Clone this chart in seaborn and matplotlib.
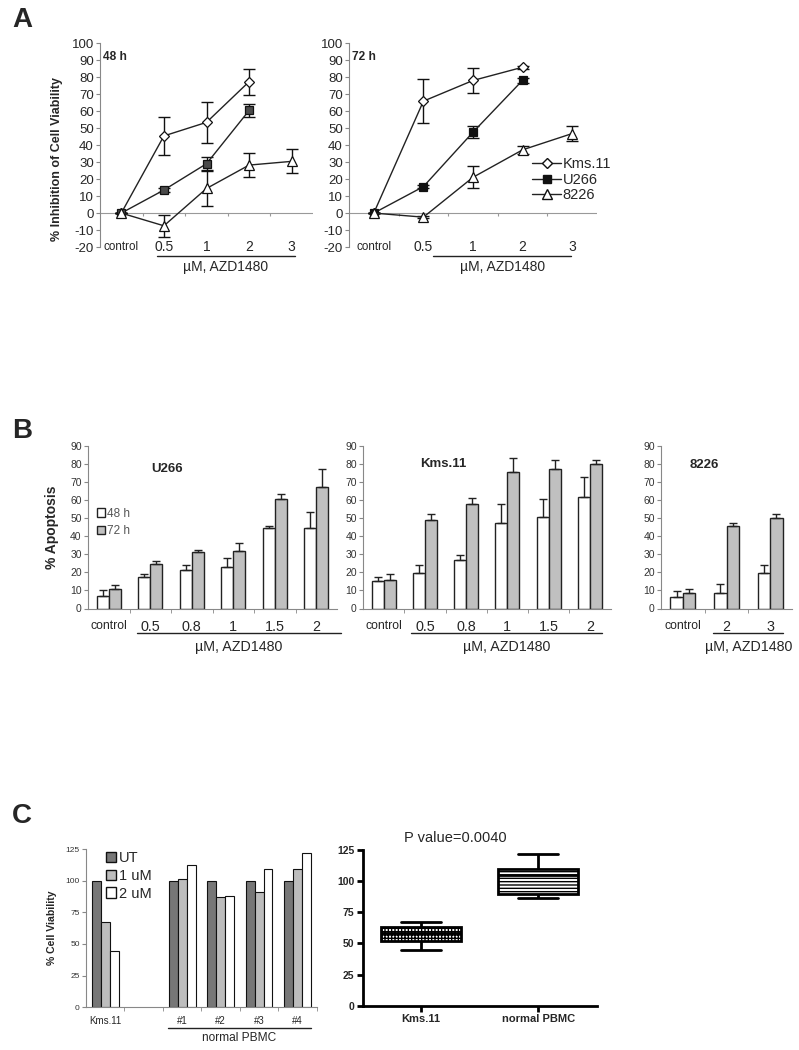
import numpy as np
import pandas as pd
import seaborn as sns
import matplotlib.pyplot as plt
from matplotlib.lines import Line2D
from matplotlib.patches import Patch
from matplotlib.transforms import blended_transform_factory

sns.set_style("white")
plt.rcParams["font.family"] = ["Liberation Sans", "DejaVu Sans"]
plt.rcParams["axes.unicode_minus"] = False
plt.rcParams["hatch.linewidth"] = 1.0

W, H = 799, 1050

# ---- panel A: % inhibition of viability (mean, sd) ----
doses_a = ["control", "0.5", "1", "2", "3"]
lines_a = ["Kms.11", "U266", "8226"]
inh48 = {"Kms.11": [0, 45.5, 53.5, 77.5, np.nan],
         "U266": [0, 13.6, 29.1, 60.5, np.nan],
         "8226": [0, -7.5, 14.5, 28.3, 30.5]}
inh48_sd = {"Kms.11": [0, 11.4, 12.2, 7.6, np.nan],
            "U266": [0, 1.2, 3.8, 3.6, np.nan],
            "8226": [0, 6.5, 10.2, 7.0, 7.0]}
inh72 = {"Kms.11": [0, 66.0, 78.2, 86.0, np.nan],
         "U266": [0, 15.6, 47.7, 78.3, np.nan],
         "8226": [0, -2.4, 21.1, 37.3, 46.9]}
inh72_sd = {"Kms.11": [0, 13.0, 7.4, 1.0, np.nan],
            "U266": [0, 1.0, 3.7, 1.5, np.nan],
            "8226": [0, 0.5, 6.6, 2.5, 4.6]}

# ---- panel B: % apoptosis (mean, +sd) ----
u266_doses = ["control", "0.5", "0.8", "1", "1.5", "2"]
u266_48 = [7.0, 17.2, 21.1, 23.1, 44.4, 44.6]
u266_48_sd = [3.0, 2.1, 2.8, 4.8, 1.3, 8.9]
u266_72 = [10.9, 24.8, 31.1, 32.0, 60.9, 67.2]
u266_72_sd = [2.3, 1.7, 1.1, 4.5, 2.4, 9.8]

kms_doses = ["control", "0.5", "0.8", "1", "1.5", "2"]
kms_48 = [15.1, 19.5, 26.7, 47.1, 50.6, 61.9]
kms_48_sd = [2.4, 4.4, 3.1, 10.5, 10.3, 10.7]
kms_72 = [16.0, 49.2, 58.0, 75.5, 77.3, 79.9]
kms_72_sd = [3.0, 2.9, 3.0, 7.7, 4.8, 2.4]

r8226_doses = ["control", "2", "3"]
r8226_48 = [6.4, 8.7, 19.8]
r8226_48_sd = [3.1, 4.9, 4.4]
r8226_72 = [8.5, 45.6, 50.0]
r8226_72_sd = [2.2, 1.7, 2.4]

# ---- panel C: % cell viability ----
via_groups = ["Kms.11", " ", "#1", "#2", "#3", "#4"]
via_present = ["Kms.11", "#1", "#2", "#3", "#4"]
via_ut = [100, 100, 100, 100, 100]
via_1um = [67.3, 101.0, 86.8, 90.8, 109.0]
via_2um = [44.6, 112.0, 87.6, 109.0, 121.6]

box_groups = ["Kms.11", "normal PBMC"]
box_kms = [44.6, 52.0, 58.5, 63.4, 67.3]
box_pbmc = [101.0, 112.0, 86.8, 87.6, 90.8, 109.0, 109.0, 121.6]


def add_axes(fig, x0, y0, x1, y1):
    # pixel box (top-left origin) -> figure fraction
    return fig.add_axes([x0 / W, 1 - y1 / H, (x1 - x0) / W, (y1 - y0) / H])


def underline(ax, x0, x1, y_line, y_text, text="\u00b5M, AZD1480", size=10):
    tr = blended_transform_factory(ax.transData, ax.transAxes)
    ax.plot([x0, x1], [y_line, y_line], color="#222", lw=1,
            transform=tr, clip_on=False)
    ax.text((x0 + x1) / 2, y_text, text, transform=tr,
            ha="center", va="center", fontsize=size)


def inhibition_panel(ax, means, sds, tag, sq_color):
    styles = {"Kms.11": dict(marker="D", markersize=5.5, markerfacecolor="white"),
              "U266": dict(marker="s", markersize=6, markerfacecolor=sq_color),
              "8226": dict(marker="^", markersize=7, markerfacecolor="white")}
    x = np.arange(len(doses_a))
    for name in lines_a:
        y = np.array(means[name], dtype=float)
        e = np.array(sds[name], dtype=float)
        ok = ~np.isnan(y)
        ax.errorbar(x[ok], y[ok], yerr=e[ok], fmt="none", ecolor="#111",
                    elinewidth=1, capsize=4, capthick=1, zorder=2)
        sns.lineplot(x=x[ok], y=y[ok], color="#222", linewidth=1,
                     markeredgecolor="#111", markeredgewidth=0.9,
                     ax=ax, zorder=3, **styles[name])
    ax.set_xlim(-0.5, len(doses_a) - 0.5)
    ax.set_ylim(-20, 100)
    ax.set_yticks(range(-20, 101, 10))
    ax.set_xticks([])
    ax.set_xlabel("")
    for s in ["top", "right", "bottom"]:
        ax.spines[s].set_visible(False)
    ax.spines["left"].set_color("#888")
    ax.spines["left"].set_linewidth(0.8)
    ax.tick_params(axis="y", left=True, length=3, color="#888",
                   labelsize=9.5, pad=1.5)
    ax.axhline(0, color="#999", lw=0.8, zorder=1)
    bounds = np.arange(len(doses_a) - 1) + 0.5
    ax.vlines(bounds, -1.8, 0, color="#999", lw=0.8)
    for i, d in enumerate(doses_a):
        ax.text(i, -20, d, ha="center", va="center",
                fontsize=8.4 if d == "control" else 10)
    ax.text(0.012, 0.935, tag, transform=ax.transAxes, fontsize=8.6,
            fontweight="bold", va="center")


fig = plt.figure(figsize=(W / 100, H / 100), dpi=100)

# Panel A
axA1 = add_axes(fig, 100, 43.5, 313, 247)
inhibition_panel(axA1, inh48, inh48_sd, "48 h", "#4a4a4a")
underline(axA1, 0.84, 4.07, -0.044, -0.1)
axA1.set_ylabel("% Inhibition of Cell Viability", fontsize=9,
                fontweight="bold", va="center")
axA1.yaxis.set_label_coords(-0.2, 0.432)

axA2 = add_axes(fig, 349, 43.5, 597, 247)
inhibition_panel(axA2, inh72, inh72_sd, "72 h", "#111")
underline(axA2, 1.2, 3.98, -0.044, -0.1)
leg_handles = [
    Line2D([], [], color="#222", lw=1, marker="D", ms=5.5, mfc="white", mec="#111"),
    Line2D([], [], color="#222", lw=1, marker="s", ms=6, mfc="#111", mec="#111"),
    Line2D([], [], color="#222", lw=1, marker="^", ms=7, mfc="white", mec="#111"),
]
axA2.legend(leg_handles, lines_a, loc="upper left", bbox_to_anchor=(0.738, 0.44),
            frameon=False, fontsize=10.5, handlelength=2.0, handletextpad=0.1,
            labelspacing=0.1, borderpad=0, borderaxespad=0)


# Panel B
def apoptosis_panel(ax, title, doses, v48, e48, v72, e72, title_xy):
    n = len(doses)
    df = pd.DataFrame({"dose": doses * 2,
                       "time": ["48 h"] * n + ["72 h"] * n,
                       "val": v48 + v72})
    sns.barplot(data=df, x="dose", y="val", hue="time", order=doses,
                hue_order=["48 h", "72 h"],
                palette={"48 h": "white", "72 h": "#c0c0c0"},
                edgecolor="#222", linewidth=1, width=0.58, errorbar=None,
                legend=False, ax=ax)
    bars = list(ax.containers)
    for cont, errs in zip(bars, [e48, e72]):
        xs = [b.get_x() + b.get_width() / 2 for b in cont]
        ys = [b.get_height() for b in cont]
        ax.errorbar(xs, ys, yerr=[np.zeros(n), errs], fmt="none",
                    ecolor="#222", elinewidth=1, capsize=2.8, capthick=1)
    ax.set_xlim(-0.5, n - 0.5)
    ax.set_ylim(0, 90)
    ax.set_yticks(range(0, 91, 10))
    ax.set_xlabel("")
    ax.set_ylabel("")
    for s in ["top", "right"]:
        ax.spines[s].set_visible(False)
    for s in ["left", "bottom"]:
        ax.spines[s].set_color("#888")
        ax.spines[s].set_linewidth(0.8)
    ax.set_xticks(range(n))
    ax.set_xticklabels(doses)
    ax.set_xticks(np.arange(n - 1) + 0.5, minor=True)
    ax.tick_params(axis="x", which="major", length=0, pad=8.5)
    ax.tick_params(axis="x", which="minor", bottom=True, length=3, color="#888")
    ax.tick_params(axis="y", left=True, length=3, color="#888",
                   labelsize=7.5, labelcolor="#333", pad=1.5)
    for lab in ax.get_xticklabels():
        lab.set_fontsize(8.8 if lab.get_text() == "control" else 10.4)
    ax.text(title_xy[0], title_xy[1], title, transform=ax.transAxes,
            ha="center", va="center", fontsize=9.5, fontweight="bold")


axB1 = add_axes(fig, 88, 446, 337, 608.5)
apoptosis_panel(axB1, "U266", u266_doses, u266_48, u266_48_sd,
                u266_72, u266_72_sd, (0.317, 0.858))
underline(axB1, 0.68, 5.6, -0.151, -0.237, size=10.3)
axB1.set_ylabel("% Apoptosis", fontsize=10, fontweight="bold", va="center")
axB1.yaxis.set_label_coords(-0.145, 0.5)
axB1.legend([Patch(facecolor="white", edgecolor="#222"),
             Patch(facecolor="#c0c0c0", edgecolor="#222")],
            ["48 h", "72 h"], loc="upper left", bbox_to_anchor=(0.035, 0.62),
            frameon=False, fontsize=8.5, labelcolor="#555", handlelength=0.7,
            handleheight=0.7, handletextpad=0.2, labelspacing=0.45,
            borderpad=0, borderaxespad=0)

axB2 = add_axes(fig, 363, 446, 610.5, 608.5)
apoptosis_panel(axB2, "Kms.11", kms_doses, kms_48, kms_48_sd,
                kms_72, kms_72_sd, (0.323, 0.889))
underline(axB2, 0.66, 5.3, -0.151, -0.237, size=10.3)

axB3 = add_axes(fig, 661, 446, 792, 608.5)
apoptosis_panel(axB3, "8226", r8226_doses, r8226_48, r8226_48_sd,
                r8226_72, r8226_72_sd, (0.328, 0.883))
underline(axB3, 0.7, 2.3, -0.151, -0.237, size=10.3)

# Panel C left: viability bars
axC1 = add_axes(fig, 86, 849, 316.7, 1007.3)
nv = len(via_present)
df_via = pd.DataFrame({"group": via_present * 3,
                       "dose": ["UT"] * nv + ["1 uM"] * nv + ["2 uM"] * nv,
                       "val": via_ut + via_1um + via_2um})
sns.barplot(data=df_via, x="group", y="val", hue="dose", order=via_groups,
            hue_order=["UT", "1 uM", "2 uM"],
            palette={"UT": "#777777", "1 uM": "#bdbdbd", "2 uM": "white"},
            edgecolor="#111", linewidth=0.8, width=0.7, errorbar=None,
            legend=False, ax=axC1)
axC1.set_xlim(-0.5, len(via_groups) - 0.5)
axC1.set_ylim(0, 125)
axC1.set_yticks(range(0, 126, 25))
axC1.set_xlabel("")
axC1.set_ylabel("% Cell Viability", fontsize=7.6, fontweight="bold", va="center")
axC1.yaxis.set_label_coords(-0.149, 0.5)
for s in ["top", "right"]:
    axC1.spines[s].set_visible(False)
for s in ["left", "bottom"]:
    axC1.spines[s].set_color("#888")
    axC1.spines[s].set_linewidth(0.8)
axC1.set_xticks(range(len(via_groups)))
axC1.set_xticklabels(via_groups)
axC1.set_xticks(np.arange(len(via_groups)) + 0.5, minor=True)
axC1.tick_params(axis="x", which="major", length=0, pad=6, labelsize=7)
axC1.tick_params(axis="x", which="minor", bottom=True, length=3, color="#888")
axC1.tick_params(axis="y", left=True, length=3, color="#888",
                 labelsize=6, labelcolor="#333", pad=1.5)
underline(axC1, 1.63, 5.36, -0.133, -0.195, text="normal PBMC", size=8.6)
axC1.legend([Patch(facecolor="#777777", edgecolor="#111"),
             Patch(facecolor="#bdbdbd", edgecolor="#111"),
             Patch(facecolor="white", edgecolor="#111")],
            ["UT", "1 uM", "2 uM"], loc="upper left",
            bbox_to_anchor=(0.085, 0.985), frameon=False, fontsize=10.5,
            handlelength=0.7, handleheight=0.7, handletextpad=0.2,
            labelspacing=0.25, borderpad=0, borderaxespad=0)

# Panel C right: box plot
axC2 = add_axes(fig, 362.7, 850, 596.7, 1005.7)
df_box = pd.DataFrame({"group": ["Kms.11"] * len(box_kms) + ["normal PBMC"] * len(box_pbmc),
                       "val": box_kms + box_pbmc})
sns.boxplot(data=df_box, x="group", y="val", order=box_groups, width=0.68,
            color="white", linecolor="black", linewidth=2, showfliers=False,
            ax=axC2)
for patch, hatch in zip(axC2.patches, ["+++++", "-----"]):
    patch.set_facecolor("white")
    patch.set_edgecolor("black")
    patch.set_hatch(hatch)
axC2.set_xlim(-0.5, 1.5)
axC2.set_ylim(0, 125)
axC2.set_yticks(range(0, 126, 25))
axC2.set_xlabel("")
axC2.set_ylabel("")
for s in ["top", "right"]:
    axC2.spines[s].set_visible(False)
for s in ["left", "bottom"]:
    axC2.spines[s].set_color("black")
    axC2.spines[s].set_linewidth(2)
axC2.tick_params(axis="both", length=4, width=2, color="black", pad=2)
axC2.tick_params(axis="y", left=True, labelsize=7.5)
axC2.tick_params(axis="x", bottom=True, labelsize=8)
for lab in axC2.get_xticklabels() + axC2.get_yticklabels():
    lab.set_fontweight("bold")
axC2.text(0.394, 1.077, "P value=0.0040", transform=axC2.transAxes,
          ha="center", va="center", fontsize=10.5)

# panel letters
for letter, (px, py) in zip("ABC", [(22, 20), (22, 431), (22, 816)]):
    fig.text(px / W, 1 - py / H, letter, fontsize=20, fontweight="bold",
             ha="center", va="center")

fig.savefig("out.png", dpi=100)
